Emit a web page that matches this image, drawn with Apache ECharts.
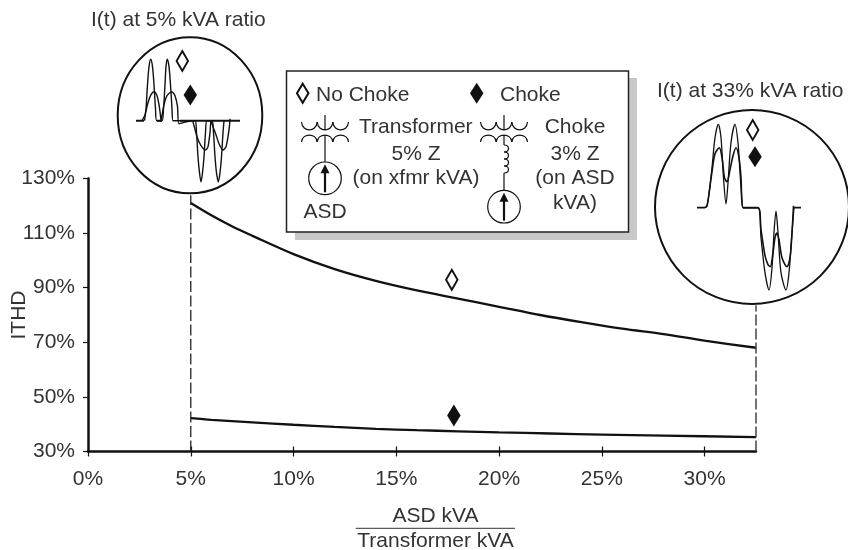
<!DOCTYPE html>
<html><head><meta charset="utf-8">
<style>html,body{margin:0;padding:0;background:#fff}#c{width:848px;height:550px}</style>
<script src="https://cdn.jsdelivr.net/npm/echarts@6/dist/echarts.min.js"></script>
</head><body><div id="c"></div>
<script>
const xTicks=[0,5,10,15,20,25,30];
const yTicks=[30,50,70,90,110,130];
const noChoke=[[5,121],[6,116.5],[7,112.5],[8,109],[10,102.3],[12,96.8],[14,92.5],[16,89],[18,86],[20,83],[22,80],[24,77.4],[26,75],[28,73],[30,70.6],[32.5,68]];
const choke=[[5,42.2],[6,41.6],[8,40.7],[10,39.8],[12,39],[14,38.3],[16,37.8],[18,37.4],[20,37],[22.5,36.6],[25,36.2],[28,35.8],[32.5,35.3]];
const dashLeft=[[5,30],[5,123.9]];
const dashRight=[[32.5,30],[32.5,83.6]];
const noChokeMark=[[17.7,92.9]];
const chokeMark=[[17.8,43.2]];
// inset waveforms: [time, current]
const lowTall=[[8.5,0],[10,12],[11.5,36],[13,54],[14.7,61.4],[16.5,54],[18,36],[19.5,12],[20.7,0],[26,0],[27.5,12],[29,36],[30,54],[31.3,61.4],[33,54],[34.5,36],[36,12],[37,0],[59,0],[60.5,-12],[62,-36],[63.5,-52],[65,-61.3],[66.5,-52],[68,-36],[69.5,-12],[71,0],[76,0],[77.5,-12],[79,-36],[80.5,-52],[82.3,-61.3],[84,-52],[85.5,-36],[87,-12],[88,0]];
const lowWide=[[6,0],[9,6],[12,18],[15,26],[18,29],[21,25],[23,16],[24.5,5],[25,0],[26,5],[28,16],[31,25],[35.7,29],[39,25],[41.5,14],[43,-3],[56,0],[58,-5],[61,-16],[65,-25],[69.7,-29.3],[72,-26],[74,-12],[75,0],[77,-6],[80,-14],[83,-23],[87,-29.3],[90,-26],[92,-16],[93.5,-5],[94,2]];
const lowBase=[[0,0],[8,0],null,[21,0],[26,0],null,[44,0],[104,0]];
const highTall=[[8,0],[10,2],[12,14],[15,40],[18,70],[21.3,83.4],[24,70],[26.5,30],[29,3.7],[31,25],[34,65],[38,83.4],[41,65],[43,35],[45,8],[46.3,0],[61,0],[64,-30],[68,-65],[72,-82.3],[75,-60],[77,-25],[79,-3.5],[81,-25],[84,-65],[89,-82.3],[92,-65],[95,-25],[97,0.7]];
const highWide=[[8,0],[10,2],[12,14],[15,36],[18,54],[22.3,60],[25,50],[27.5,30],[30,26],[33,38],[36,52],[39,60],[42,50],[44,30],[46,0],[61,0],[64,-22],[68,-48],[71,-57],[73.3,-59],[76,-45],[78,-30],[80,-25.3],[82,-32],[85,-50],[90,-59],[93,-50],[95,-25],[96.5,2]];
const highBase=[[0,0],[8,0],null,[46,0],[61,0],null,[97,0],[104,0]];
const lowMarks=[[[46.3,59.7]],[[54.3,25.7]]];
const highMarks=[[[55.7,77.7]],[[58,51]]];

const FONT='"Liberation Sans",Arial,sans-serif';
const INK='#333';
const LINE='#111';
const FS=21;
const hollow={color:'#fff',borderColor:'#111',borderWidth:2,opacity:1};
const solid={color:'#111',borderColor:'#111',borderWidth:0,opacity:1};
function lineS(name,data,x,y,width,extra){return Object.assign({name,type:'line',data,xAxisIndex:x,yAxisIndex:y,showSymbol:false,symbol:'none',clip:false,silent:true,animation:false,lineStyle:{color:LINE,width},connectNulls:false},extra||{});}
function markS(name,data,x,y,size,style){return {name,type:'scatter',data,xAxisIndex:x,yAxisIndex:y,symbol:'diamond',symbolSize:size,itemStyle:style,silent:true,animation:false,clip:false,z:5};}
function hiddenX(g,max){return {type:'value',gridIndex:g,min:0,max,show:false};}
function hiddenY(g,lim){return {type:'value',gridIndex:g,min:-lim,max:lim,show:false};}

function T(text,x,y,align){return {type:'text',z:20,x,y,style:{text,x:0,y:0,fill:INK,font:FS+'px '+FONT,textAlign:align||'left',textVerticalAlign:'middle'},silent:true};}
function diamond(cx,cy,w,h,style){return {type:'polygon',z:20,shape:{points:[[cx,cy-h/2],[cx+w/2,cy],[cx,cy+h/2],[cx-w/2,cy]]},style,silent:true};}
const STK={fill:null,stroke:'#111',lineWidth:1.2};
function L(x1,y1,x2,y2,w,z){return {type:'line',z:z||20,shape:{x1,y1,x2,y2},style:{stroke:'#111',lineWidth:w||1.2},silent:true};}
function B(x1,y1,c1x,c1y,c2x,c2y,x2,y2){return {type:'bezierCurve',z:20,shape:{x1,y1,x2,y2,cpx1:c1x,cpy1:c1y,cpx2:c2x,cpy2:c2y},style:STK,silent:true};}
function coils(l,st,y,dy){const out=[];for(let i=0;i<3;i++){const a=l+st*i,b=a+st;out.push(B(a,y,a+1,y+dy,b-1,y+dy,b,y));}return out;}
function xfmr(cx){const l=cx-23.5,st=15.67;return [...coils(l,st,122,10.6),...coils(l,st,142,-9.3),L(cx,115,cx,130)];}
function source(cx,cy){return [{type:'circle',z:20,shape:{cx,cy,r:16.3},style:{fill:'#fff',stroke:'#111',lineWidth:1.2},silent:true},L(cx,cy+14,cx,cy-10,2.2,21),{type:'polygon',z:21,shape:{points:[[cx,cy-14],[cx+4.5,cy-5],[cx-4.5,cy-5]]},style:{fill:'#111'},silent:true}];}
function chokeCoil(cx,ys){const out=[];for(let i=0;i<ys.length-1;i++){out.push(B(cx,ys[i],cx+6,ys[i],cx+6,ys[i+1],cx,ys[i+1]));}return out;}

const graphics=[
 {type:'rect',z:18,shape:{x:295,y:78,width:342,height:162},style:{fill:'#c8c8c8'},silent:true},
 {type:'rect',z:19,shape:{x:286.5,y:71,width:342,height:161},style:{fill:'#fff',stroke:'#222',lineWidth:1.5},silent:true},
 {type:'ellipse',z:10,shape:{cx:190,cy:115.3,rx:72.3,ry:78},style:{fill:null,stroke:'#111',lineWidth:2},silent:true},
 {type:'circle',z:10,shape:{cx:752,cy:207,r:97},style:{fill:null,stroke:'#111',lineWidth:2},silent:true},
 T('I(t) at 5% kVA ratio',91,20),
 T('I(t) at 33% kVA ratio',657,91),
 T('No Choke',316,95.5),T('Choke',500,95.5),
 T('Transformer',359,127),T('5% Z',416,154,'center'),T('(on xfmr kVA)',416,178,'center'),T('ASD',325,212,'center'),
 T('Choke',575,127,'center'),T('3% Z',575,154,'center'),T('(on ASD',575,178,'center'),T('kVA)',575,203,'center'),
 diamond(302.7,93.3,11.5,19,{fill:'#fff',stroke:'#111',lineWidth:2}),
 diamond(476.7,93.3,13.5,21,{fill:'#111'}),
 ...xfmr(325),L(325,135,325,162),...source(325,178.3),
 ...xfmr(504),L(504,135,504,145),...chokeCoil(504,[145,152,159,166,173]),L(504,173,504,190),...source(504,206.7),
 {type:'line',z:20,shape:{x1:355.7,y1:528.3,x2:515,y2:528.3},style:{stroke:'#333',lineWidth:1},silent:true}
];

const chart=echarts.init(document.getElementById('c'),null,{renderer:'canvas'});
chart.setOption({
 animation:false,backgroundColor:'#fff',
 textStyle:{fontFamily:FONT},
 grid:[
  {left:88,top:178.5,width:668,height:273,containLabel:false,outerBoundsMode:'none'},
  {left:136,top:58.7,width:104,height:124,outerBoundsMode:'none'},
  {left:697,top:123.7,width:104,height:168,outerBoundsMode:'none'}
 ],
 xAxis:[
  {type:'value',gridIndex:0,min:0,max:32.5,interval:5,
   name:'ASD kVA\nTransformer kVA',nameLocation:'middle',nameGap:52,nameMoveOverlap:false,
   nameTextStyle:{color:INK,fontSize:FS,lineHeight:25,fontFamily:FONT,padding:[0,0,0,27]},
   axisLine:{show:true,onZero:false,lineStyle:{color:LINE,width:2.5}},
   axisTick:{show:true,length:5,lineStyle:{color:LINE,width:1.2},customValues:xTicks},
   axisLabel:{color:INK,fontSize:FS,fontFamily:FONT,margin:17,customValues:xTicks,formatter:v=>v+'%'},
   splitLine:{show:false}},
  {type:'value',gridIndex:0,min:0,max:32.5,interval:5,position:'bottom',
   axisLine:{show:false},axisLabel:{show:false},splitLine:{show:false},
   axisTick:{show:true,inside:true,length:5,lineStyle:{color:LINE,width:1.2},customValues:xTicks}},
  hiddenX(1,104),hiddenX(2,104)
 ],
 yAxis:[
  {type:'value',gridIndex:0,min:30,max:130,interval:10,
   name:'ITHD',nameLocation:'middle',nameGap:58,nameRotate:90,nameMoveOverlap:false,
   nameTextStyle:{color:INK,fontSize:FS,fontFamily:FONT},
   axisLine:{show:true,onZero:false,lineStyle:{color:LINE,width:2.5}},
   axisTick:{show:true,length:5,lineStyle:{color:LINE,width:1.2},customValues:yTicks},
   axisLabel:{color:INK,fontSize:FS,fontFamily:FONT,margin:13,customValues:yTicks,formatter:v=>v+'%'},
   splitLine:{show:false}},
  hiddenY(1,62),hiddenY(2,84)
 ],
 series:[
  lineS('No Choke',noChoke,0,0,2.3,{smooth:0.3}),
  lineS('Choke',choke,0,0,2.3,{smooth:0.3}),
  lineS('Low ratio limit',dashLeft,0,0,1.3,{lineStyle:{color:'#222',width:1.3,type:[11,3.5]}}),
  lineS('High ratio limit',dashRight,0,0,1.5,{lineStyle:{color:'#444',width:1.5,type:[11,3]}}),
  markS('No Choke mark',noChokeMark,0,0,[11.5,20],hollow),
  markS('Choke mark',chokeMark,0,0,[13.5,22],solid),
  lineS('I(t) 5% no choke',lowTall,2,1,1.4,{smooth:0.3}),
  lineS('I(t) 5% choke',lowWide,2,1,1.4,{smooth:0.25}),
  lineS('I(t) 5% base',lowBase,2,1,2),
  lineS('I(t) 33% no choke',highTall,3,2,1.3,{smooth:0.3}),
  lineS('I(t) 33% choke',highWide,3,2,1.6,{smooth:0.3}),
  lineS('I(t) 33% base',highBase,3,2,1.8),
  markS('5% hollow',lowMarks[0],2,1,[11.5,20],hollow),
  markS('5% solid',lowMarks[1],2,1,[13.5,21],solid),
  markS('33% hollow',highMarks[0],3,2,[11.5,20],hollow),
  markS('33% solid',highMarks[1],3,2,[13.5,21],solid)
 ],
 graphic:{elements:graphics}
});
</script></body></html>
